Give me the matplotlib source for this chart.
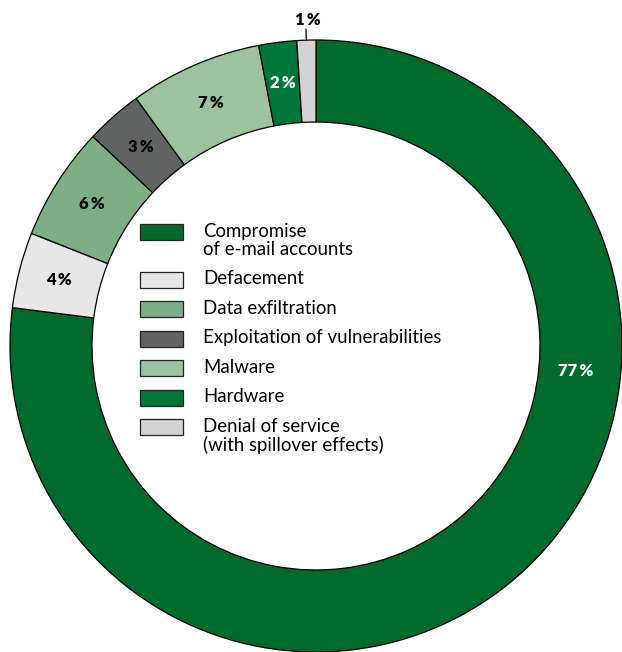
import numpy as np
import matplotlib
matplotlib.use("Agg")
import matplotlib.pyplot as plt
from matplotlib.patches import Rectangle

plt.rcParams['font.family'] = ['Lato', 'DejaVu Sans']

categories = ["Compromise\nof e-mail accounts", "Defacement", "Data exfiltration",
              "Exploitation of vulnerabilities", "Malware", "Hardware",
              "Denial of service\n(with spillover effects)"]
shares = [77, 4, 6, 3, 7, 2, 1]
colors = ["#006b2c", "#e6e7e6", "#7dae85", "#616362", "#9cc2a0", "#00763a", "#d2d3d2"]
label_colors = ["white", "black", "black", "black", "black", "white", "black"]

W, H = 622, 652
fig = plt.figure(figsize=(W / 100, H / 100), dpi=100)
ax = fig.add_axes([0, 0, 1, 1])

cx, cy, R = 316, 306, 306
ring = 82

wedges, _ = ax.pie(shares, colors=colors, startangle=90, counterclock=False,
                   radius=R, center=(cx, cy), frame=True,
                   wedgeprops=dict(width=ring, edgecolor='black', linewidth=0.9))
ax.set_xlim(0, W)
ax.set_ylim(0, H)
ax.set_aspect('equal')
ax.axis('off')

# percentage labels
rmid = R - ring / 2
for i, (w, v) in enumerate(zip(wedges, shares)):
    ang = np.deg2rad((w.theta1 + w.theta2) / 2)
    txt = f"{v}\u2009%"
    if i == 0:
        ang = np.deg2rad(-5.5)
        r = rmid - 4
    elif v == 1:
        x0, y0 = cx + R * np.cos(ang), cy + R * np.sin(ang)
        x1, y1 = cx + (R + 11) * np.cos(ang), cy + (R + 11) * np.sin(ang)
        ax.plot([x0, x1], [y0, y1], color='black', lw=0.9)
        ax.text(x1 + 2, y1 + 1, txt, ha='center', va='bottom', fontsize=12,
                fontweight='heavy', color=label_colors[i])
        continue
    else:
        r = rmid
    ax.text(cx + r * np.cos(ang), cy + r * np.sin(ang), txt, ha='center', va='center',
            fontsize=12, fontweight='heavy', color=label_colors[i])

# legend inside the ring
y = H - 232
for name, col in zip(categories, colors):
    ax.add_patch(Rectangle((140, y - 8), 43, 16, facecolor=col, edgecolor='#222222', lw=0.9))
    ax.text(203, y + 9, name, ha='left', va='top', fontsize=13.4, linespacing=1.08)
    y -= 29.5 + 18 * name.count("\n")

fig.savefig("out.png", dpi=100)
